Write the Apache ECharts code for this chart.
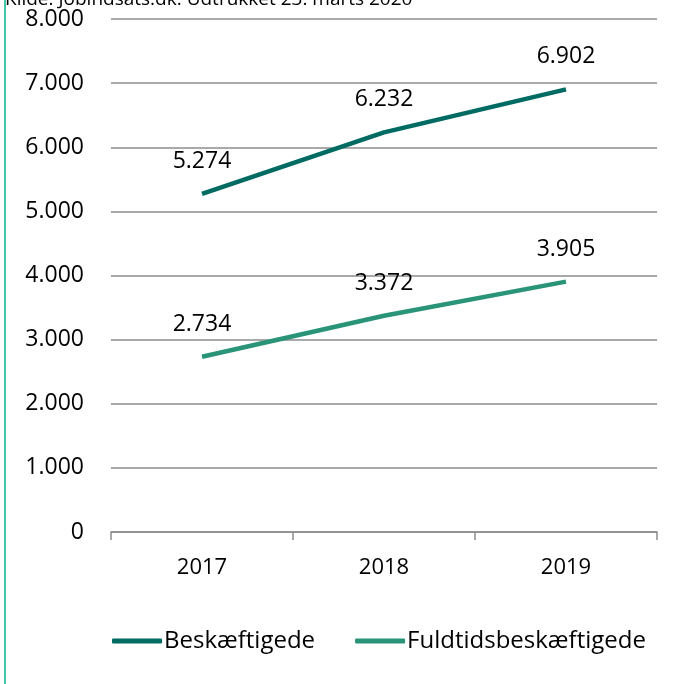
<!DOCTYPE html>
<html>
<head>
<meta charset="utf-8">
<script src="https://cdn.jsdelivr.net/npm/echarts@6/dist/echarts.min.js"></script>
<style>
  html, body { margin: 0; padding: 0; background: #fff; }
  #chart { width: 697px; height: 684px; }
</style>
</head>
<body>
<div id="chart"></div>
<script>
// data
var years = ["2017", "2018", "2019"];
var beskaeftigede = [5274, 6232, 6902];
var fuldtids = [2734, 3372, 3905];
var seriesNames = ["Beskæftigede", "Fuldtidsbeskæftigede"];
var sourceText = "Kilde: Jobindsats.dk. Udtrukket 23. marts 2020";

var darkTeal = "#006b63";
var lightTeal = "#2a9478";
var font = "'Open Sans', sans-serif";

function fmt(v) {
  // danish thousands separator
  var s = String(v);
  return s.length > 3 ? s.slice(0, s.length - 3) + "." + s.slice(-3) : s;
}

var myChart = echarts.init(document.getElementById("chart"));

var labelOpt = {
  show: true,
  position: "top",
  distance: 21,
  fontSize: 23,
  fontFamily: font,
  color: "#000",
  formatter: function (p) { return fmt(p.value); }
};

var option = {
  animation: false,
  textStyle: { fontFamily: font },
  title: {
    text: sourceText,
    left: 0,
    top: -15,
    textStyle: { fontSize: 19, fontWeight: "normal", color: "#000", fontFamily: font }
  },
  graphic: [
    {
      type: "rect",
      shape: { x: 4, y: 0, width: 2, height: 684 },
      style: { fill: "#40c8a8" }
    }
  ],
  legend: {
    bottom: 26,
    left: 107,
    itemWidth: 50,
    itemHeight: 5,
    itemGap: 40,
    icon: "roundRect",
    textStyle: { fontSize: 24, color: "#000", fontFamily: font, padding: [0, 0, 0, -3] },
    data: seriesNames
  },
  grid: { left: 111, right: 40, top: 19, bottom: 152 },
  xAxis: {
    type: "category",
    data: years,
    boundaryGap: true,
    axisLine: { lineStyle: { color: "#8c8c8c", width: 1.5 } },
    axisTick: { show: true, length: 8, alignWithLabel: false, lineStyle: { color: "#8c8c8c", width: 1.5 } },
    axisLabel: { fontSize: 22, color: "#000", fontFamily: font, margin: 25 }
  },
  yAxis: {
    type: "value",
    min: 0,
    max: 8000,
    interval: 1000,
    axisLine: { show: false },
    axisTick: { show: false },
    splitLine: { lineStyle: { color: "#8c8c8c", width: 1.5 } },
    axisLabel: {
      fontSize: 23,
      color: "#000",
      fontFamily: font,
      margin: 27,
      formatter: function (v) { return fmt(v); }
    }
  },
  series: [
    {
      name: seriesNames[0],
      type: "line",
      data: beskaeftigede,
      symbol: "circle",
      symbolSize: 0,
      color: darkTeal,
      lineStyle: { width: 4.5, color: darkTeal },
      label: labelOpt
    },
    {
      name: seriesNames[1],
      type: "line",
      data: fuldtids,
      symbol: "circle",
      symbolSize: 0,
      color: lightTeal,
      lineStyle: { width: 4.5, color: lightTeal },
      label: labelOpt
    }
  ]
};

myChart.setOption(option);
</script>
</body>
</html>
